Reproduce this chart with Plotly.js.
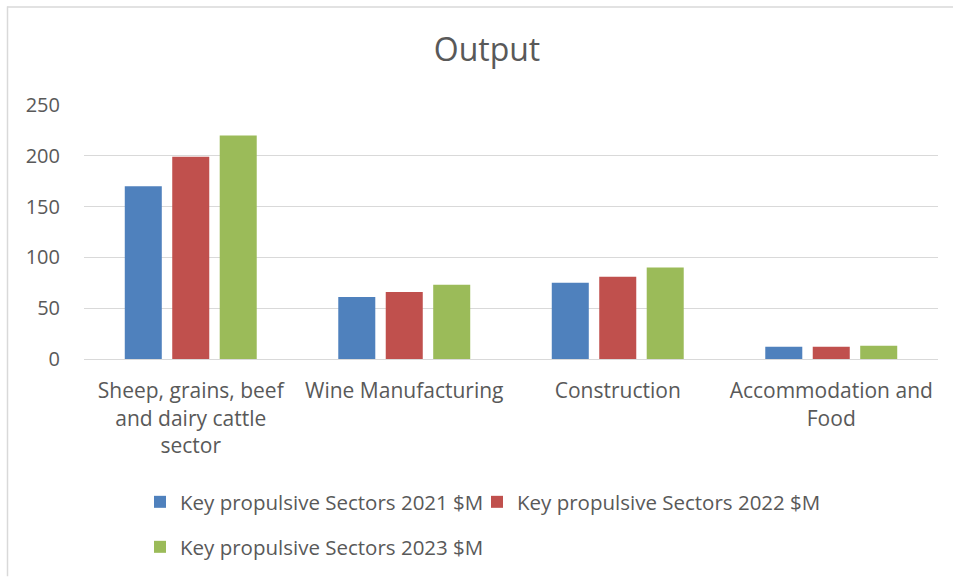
<!DOCTYPE html>
<html>
<head>
<meta charset="utf-8">
<script src="https://cdn.plot.ly/plotly-3.0.1.min.js"></script>
<style>html,body{margin:0;padding:0;background:#fff;}#chart{width:953px;height:578px;}</style>
</head>
<body>
<div id="chart"></div>
<script>
const categories = [
  "Sheep, grains, beef<br>and dairy cattle<br>sector",
  "Wine Manufacturing",
  "Construction",
  "Accommodation and<br>Food"
];
const seriesNames = [
  "Key propulsive Sectors 2021 $M",
  "Key propulsive Sectors 2022 $M",
  "Key propulsive Sectors 2023 $M"
];
const values2021 = [170, 61, 75, 12];
const values2022 = [199, 66, 81, 12];
const values2023 = [220, 73, 90, 13];
const colors = ["#4f81bd", "#c0504d", "#9bbb59"];
const yTicks = [0, 50, 100, 150, 200, 250];

const FONT = "'Open Sans', 'Noto Sans', sans-serif";
const allValues = [values2021, values2022, values2023];
const legendIds = ["legend", "legend2", "legend3"];

const traces = allValues.map((v, i) => ({
  type: "bar",
  x: categories,
  y: v,
  name: seriesNames[i],
  marker: {color: colors[i]},
  legend: legendIds[i],
  hoverinfo: "x+y+name"
}));

const L = 84, T = 105, W = 854, H = 255;
function px(x){ return (x - L) / W; }
function py(y){ return (T + H - y) / H; }

function legendAt(xPix, yPix){
  return {
    orientation: "h",
    x: px(xPix), xanchor: "left",
    y: py(yPix), yanchor: "middle",
    font: {family: FONT, size: 20.5, color: "#595959"},
    bgcolor: "rgba(0,0,0,0)",
    itemclick: false, itemdoubleclick: false
  };
}

const layout = {
  width: 953, height: 578,
  margin: {l: L, r: 953 - L - W, t: T, b: 578 - T - H},
  paper_bgcolor: "#ffffff",
  plot_bgcolor: "#ffffff",
  font: {family: FONT, color: "#595959", size: 20},
  title: {
    text: "Output",
    font: {family: FONT, size: 32, color: "#595959"},
    x: 487 / 953, xanchor: "center",
    y: 1 - 50 / 578, yanchor: "middle", yref: "container"
  },
  barmode: "group",
  bargap: 0.333,
  bargroupgap: 0.22,
  xaxis: {
    type: "category",
    showgrid: false,
    showline: true,
    linecolor: "#d9d9d9",
    linewidth: 1,
    ticks: "",
    tickfont: {family: FONT, size: 21, color: "#595959"},
    ticklabelstandoff: 13,
    fixedrange: true
  },
  yaxis: {
    range: [0, 250],
    tickvals: yTicks,
    ticktext: yTicks.map(String),
    showgrid: true,
    gridcolor: "#d9d9d9",
    gridwidth: 1,
    zeroline: false,
    showline: false,
    ticks: "",
    tickfont: {family: FONT, size: 20, color: "#595959"},
    ticklabelstandoff: 23,
    fixedrange: true
  },
  showlegend: true,
  legend: legendAt(140, 502),
  legend2: legendAt(477, 502),
  legend3: legendAt(140, 547),
  shapes: [
    {type: "line", xref: "paper", yref: "paper", x0: px(7), x1: px(953), y0: py(6.5), y1: py(6.5), line: {color: "#d9d9d9", width: 1.5}},
    {type: "line", xref: "paper", yref: "paper", x0: px(7.5), x1: px(7.5), y0: py(6), y1: py(578), line: {color: "#d9d9d9", width: 1.5}}
  ]
};

Plotly.newPlot("chart", traces, layout, {displayModeBar: false, staticPlot: true});
</script>
</body>
</html>
